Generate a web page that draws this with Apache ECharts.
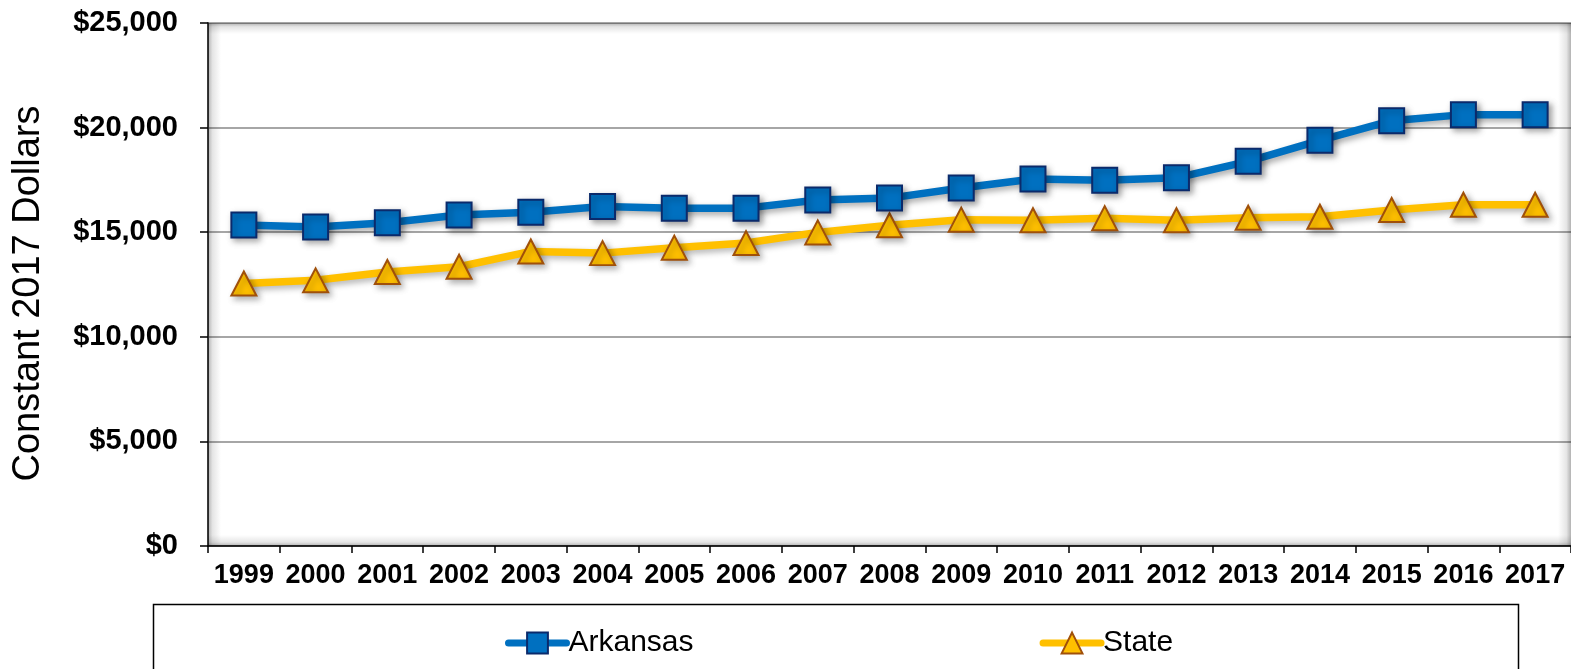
<!DOCTYPE html>
<html>
<head>
<meta charset="utf-8">
<title>Constant 2017 Dollars — Arkansas vs State</title>
<script src="https://cdn.jsdelivr.net/npm/echarts@6/dist/echarts.min.js"></script>
<style>
  html, body { margin: 0; padding: 0; background: #ffffff; }
  #chart { width: 1571px; height: 669px; }
</style>
</head>
<body>
<div id="chart"></div>
<script>
// Years on the horizontal axis
const years = ['1999', '2000', '2001', '2002', '2003', '2004', '2005', '2006', '2007', '2008',
               '2009', '2010', '2011', '2012', '2013', '2014', '2015', '2016', '2017'];

// Per-pupil spending, constant 2017 dollars
const arkansas = [15350, 15250, 15450, 15820, 15950, 16230, 16150, 16150, 16540, 16630,
                  17110, 17540, 17480, 17600, 18390, 19390, 20330, 20620, 20620];
const state = [12550, 12700, 13100, 13350, 14080, 14000, 14260, 14480, 14990, 15330,
               15600, 15570, 15670, 15570, 15690, 15740, 16060, 16310, 16310];

// Value axis range and step
const yMin = 0, yMax = 25000, yStep = 5000;

const FONT = '"Liberation Sans", Arial, Helvetica, sans-serif';

const chart = echarts.init(document.getElementById('chart'), null, { renderer: 'canvas' });

// Plot rectangle (pixels) used for the inner-shadow frame
const G = { left: 208, top: 23, right: 0, bottom: 123 };
const gw = 1571 - G.left - G.right;
const gh = 669 - G.top - G.bottom;

function edgeShade(x, y, w, h, dir) {
  // dir: gradient direction vector (x, y, x2, y2) fading from dark edge to clear
  const g = new echarts.graphic.LinearGradient(dir[0], dir[1], dir[2], dir[3], [
    { offset: 0, color: 'rgba(0,0,0,0.30)' },
    { offset: 0.35, color: 'rgba(0,0,0,0.10)' },
    { offset: 1, color: 'rgba(0,0,0,0)' }
  ]);
  return { type: 'rect', z: 1, silent: true, shape: { x, y, width: w, height: h }, style: { fill: g } };
}

const option = {
  backgroundColor: '#ffffff',
  animation: false,
  grid: { left: G.left, top: G.top, right: G.right, bottom: G.bottom, containLabel: false },
  graphic: [
    edgeShade(G.left, G.top, gw, 11, [0, 0, 0, 1]),
    edgeShade(G.left, G.top, 13, gh, [0, 0, 1, 0]),
    edgeShade(G.left, G.top + gh - 11, gw, 11, [0, 1, 0, 0]),
    edgeShade(G.left + gw - 13, G.top, 13, gh, [1, 0, 0, 0]),
    // legend frame
    { type: 'rect', z: 1, silent: true,
      shape: { x: 153.5, y: 604.5, width: 1365, height: 80 },
      style: { fill: '#ffffff', stroke: '#000000', lineWidth: 1.5 } }
  ],
  legend: {
    left: 500,
    top: 623,
    itemGap: 346,
    itemWidth: 58,
    itemHeight: 26,
    z: 5,
    textStyle: { fontFamily: FONT, fontSize: 30, color: '#000000', padding: [0, 0, 0, -3] },
    data: [
      { name: 'Arkansas', lineStyle: { width: 7, cap: 'round' } },
      { name: 'State', lineStyle: { width: 7, cap: 'round' } }
    ]
  },
  xAxis: {
    type: 'category',
    data: years,
    boundaryGap: true,
    axisLine: { show: true, lineStyle: { color: '#000000', width: 1.5 } },
    axisTick: { show: true, interval: 0, length: 7, alignWithLabel: false, lineStyle: { color: '#000000', width: 1.5 } },
    axisLabel: { interval: 0, margin: 16, fontFamily: FONT, fontSize: 27, fontWeight: 'bold', color: '#000000' },
    splitLine: { show: false }
  },
  yAxis: {
    type: 'value',
    min: yMin,
    max: yMax,
    interval: yStep,
    name: 'Constant 2017 Dollars',
    nameLocation: 'middle',
    nameRotate: 90,
    nameGap: 160,
    nameTextStyle: { fontFamily: FONT, fontSize: 38, color: '#000000', padding: [0, 18, 0, 0] },
    axisLine: { show: true, lineStyle: { color: '#3a3a3a', width: 2 } },
    axisTick: { show: true, length: 8, lineStyle: { color: '#000000', width: 1.5 } },
    axisLabel: {
      margin: 30,
      fontFamily: FONT, fontSize: 29, fontWeight: 'bold', color: '#000000',
      formatter: v => '$' + v.toLocaleString('en-US')
    },
    splitLine: { show: true, lineStyle: { color: '#888888', width: 1.5 } }
  },
  series: [
    {
      name: 'Arkansas',
      type: 'line',
      data: arkansas,
      z: 4,
      symbol: 'rect',
      symbolSize: 25,
      lineStyle: { color: '#0070C0', width: 7.5, shadowColor: 'rgba(0,0,0,0.35)', shadowBlur: 6, shadowOffsetX: 3, shadowOffsetY: 3 },
      itemStyle: { color: '#0070C0', borderColor: '#0B2A6B', borderWidth: 2,
                   shadowColor: 'rgba(0,0,0,0.35)', shadowBlur: 6, shadowOffsetX: 3, shadowOffsetY: 3 },
      emphasis: { disabled: true }
    },
    {
      name: 'State',
      type: 'line',
      data: state,
      z: 3,
      symbol: 'triangle',
      symbolSize: [25, 24],
      lineStyle: { color: '#FFC000', width: 7.5, shadowColor: 'rgba(0,0,0,0.30)', shadowBlur: 6, shadowOffsetX: 3, shadowOffsetY: 3 },
      itemStyle: { color: '#FFC000', borderColor: '#A0500A', borderWidth: 2,
                   shadowColor: 'rgba(0,0,0,0.30)', shadowBlur: 6, shadowOffsetX: 3, shadowOffsetY: 3 },
      emphasis: { disabled: true }
    }
  ]
};

chart.setOption(option);
</script>
</body>
</html>
